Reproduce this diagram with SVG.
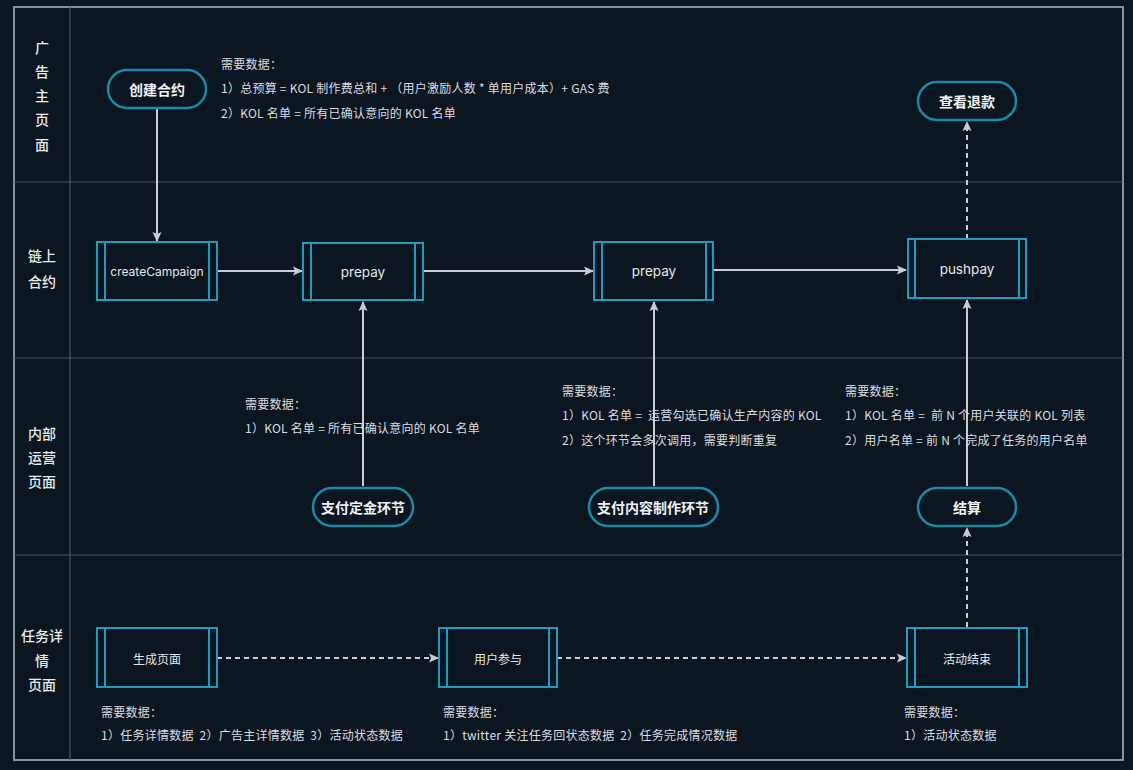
<svg xmlns="http://www.w3.org/2000/svg" width="1133" height="770" viewBox="0 0 1133 770">
<defs>
<style>
.bg{fill:#0c1620}
.frame{fill:none;stroke:#8c9196;stroke-width:2}
.div{stroke:#4b555f;stroke-width:1.2}
.lane{font-family:"Noto Sans CJK SC",sans-serif;font-size:14px;fill:#e8ebee;font-weight:500;text-anchor:middle}
.pill{fill:#0c1620;stroke:#1a8aa6;stroke-width:2.5}
.pt{font-family:"Noto Sans CJK SC",sans-serif;font-size:14px;font-weight:700;fill:#f0f2f4;text-anchor:middle;dominant-baseline:central}
.box{fill:#0c1620;stroke:#1d9cc2;stroke-width:2}
.bl{stroke:#1d9cc2;stroke-width:2}
.bt{font-family:Inter,"Noto Sans CJK SC",sans-serif;font-size:13.5px;fill:#e3e7ea;text-anchor:middle;dominant-baseline:central}
.note{font-family:"Noto Sans CJK SC",sans-serif;font-size:12px;fill:#d9dde1;white-space:pre;letter-spacing:0.25px}
.c{stroke:#c9cdd2;stroke-width:2;fill:none}
.d{stroke:#c9cdd2;stroke-width:2;fill:none;stroke-dasharray:5 4}
</style>
<marker id="ah" viewBox="0 0 10 10" refX="9" refY="5" markerWidth="10" markerHeight="10" markerUnits="userSpaceOnUse" orient="auto">
<path d="M0,0.5 L10,5 L0,9.5 L2,5 Z" fill="#c9cdd2"/>
</marker>
</defs>
<rect class="bg" x="0" y="0" width="1133" height="770"/>
<g id="lanes">
<rect class="frame" x="14" y="7" width="1109" height="753"/>
<line class="div" x1="70" y1="7" x2="70" y2="760"/>
<line class="div" x1="14" y1="182" x2="1123" y2="182"/>
<line class="div" x1="14" y1="358" x2="1123" y2="358"/>
<line class="div" x1="14" y1="555" x2="1123" y2="555"/>
<text class="lane" x="42" y="53">广</text>
<text class="lane" x="42" y="77">告</text>
<text class="lane" x="42" y="101">主</text>
<text class="lane" x="42" y="125">页</text>
<text class="lane" x="42" y="150">面</text>
<text class="lane" x="42" y="261">链上</text>
<text class="lane" x="42" y="287">合约</text>
<text class="lane" x="42" y="439">内部</text>
<text class="lane" x="42" y="463">运营</text>
<text class="lane" x="42" y="487">页面</text>
<text class="lane" x="42" y="641">任务详</text>
<text class="lane" x="42" y="666">情</text>
<text class="lane" x="42" y="690">页面</text>
</g>
<g id="connectors">
<line class="c" x1="157" y1="109" x2="157" y2="241" marker-end="url(#ah)"/>
<line class="c" x1="217" y1="271" x2="302" y2="271" marker-end="url(#ah)"/>
<line class="c" x1="423" y1="271" x2="593" y2="271" marker-end="url(#ah)"/>
<line class="c" x1="713" y1="270" x2="906" y2="270" marker-end="url(#ah)"/>
<line class="c" x1="363" y1="486" x2="363" y2="302" marker-end="url(#ah)"/>
<line class="c" x1="654" y1="486" x2="654" y2="302" marker-end="url(#ah)"/>
<line class="c" x1="967" y1="486" x2="967" y2="300" marker-end="url(#ah)"/>
<line class="d" x1="967" y1="239" x2="967" y2="122" marker-end="url(#ah)"/>
<line class="d" x1="967" y1="627" x2="967" y2="528" marker-end="url(#ah)"/>
<line class="d" x1="217" y1="658" x2="438" y2="658" marker-end="url(#ah)"/>
<line class="d" x1="557" y1="658" x2="906" y2="658" marker-end="url(#ah)"/>
</g>
<g id="n-create">
<rect class="pill" x="108" y="70" width="98" height="38" rx="19"/>
<text class="pt" x="157" y="89">创建合约</text>
</g>
<g id="n-refund">
<rect class="pill" x="918" y="82" width="98" height="38" rx="19"/>
<text class="pt" x="967" y="101">查看退款</text>
</g>
<g id="n-createCampaign">
<rect class="box" x="97" y="242" width="120" height="58"/>
<line class="bl" x1="105" y1="242" x2="105" y2="300"/>
<line class="bl" x1="209" y1="242" x2="209" y2="300"/>
<text class="bt" x="157" y="271" style="font-size:12px">createCampaign</text>
</g>
<g id="n-prepay1">
<rect class="box" x="303" y="243" width="120" height="57"/>
<line class="bl" x1="311" y1="243" x2="311" y2="300"/>
<line class="bl" x1="415" y1="243" x2="415" y2="300"/>
<text class="bt" x="363" y="272">prepay</text>
</g>
<g id="n-prepay2">
<rect class="box" x="594" y="242" width="119" height="58"/>
<line class="bl" x1="602" y1="242" x2="602" y2="300"/>
<line class="bl" x1="706" y1="242" x2="706" y2="300"/>
<text class="bt" x="654" y="271">prepay</text>
</g>
<g id="n-pushpay">
<rect class="box" x="908" y="239" width="118" height="59"/>
<line class="bl" x1="915" y1="239" x2="915" y2="298"/>
<line class="bl" x1="1019" y1="239" x2="1019" y2="298"/>
<text class="bt" x="967" y="269">pushpay</text>
</g>
<g id="n-deposit">
<rect class="pill" x="313" y="488" width="100" height="38" rx="19"/>
<text class="pt" x="363" y="507">支付定金环节</text>
</g>
<g id="n-content">
<rect class="pill" x="589" y="488" width="129" height="38" rx="19"/>
<text class="pt" x="653" y="507">支付内容制作环节</text>
</g>
<g id="n-settle">
<rect class="pill" x="918" y="488" width="98" height="38" rx="19"/>
<text class="pt" x="967" y="507">结算</text>
</g>
<g id="n-genpage">
<rect class="box" x="97" y="628" width="120" height="59"/>
<line class="bl" x1="105" y1="628" x2="105" y2="687"/>
<line class="bl" x1="209" y1="628" x2="209" y2="687"/>
<text class="bt" x="157" y="659" style="font-size:12px">生成页面</text>
</g>
<g id="n-join">
<rect class="box" x="439" y="628" width="118" height="59"/>
<line class="bl" x1="447" y1="628" x2="447" y2="687"/>
<line class="bl" x1="549" y1="628" x2="549" y2="687"/>
<text class="bt" x="498" y="659" style="font-size:12px">用户参与</text>
</g>
<g id="n-end">
<rect class="box" x="907" y="628" width="120" height="59"/>
<line class="bl" x1="915" y1="628" x2="915" y2="687"/>
<line class="bl" x1="1019" y1="628" x2="1019" y2="687"/>
<text class="bt" x="967" y="659" style="font-size:12px">活动结束</text>
</g>
<g id="notes">
<text class="note" x="221" y="69">需要数据：</text>
<text class="note" x="221" y="93">1）总预算 = KOL 制作费总和 + （用户激励人数 * 单用户成本）+ GAS 费</text>
<text class="note" x="221" y="118">2）KOL 名单 = 所有已确认意向的 KOL 名单</text>
<text class="note" x="245" y="409">需要数据：</text>
<text class="note" x="245" y="433">1）KOL 名单 = 所有已确认意向的 KOL 名单</text>
<text class="note" x="562" y="396">需要数据：</text>
<text class="note" x="562" y="420">1）KOL 名单 =  运营勾选已确认生产内容的 KOL</text>
<text class="note" x="562" y="445">2）这个环节会多次调用，需要判断重复</text>
<text class="note" x="845" y="396">需要数据：</text>
<text class="note" x="845" y="420">1）KOL 名单 =  前 N 个用户关联的 KOL 列表</text>
<text class="note" x="845" y="445">2）用户名单 = 前 N 个完成了任务的用户名单</text>
<text class="note" x="101" y="717">需要数据：</text>
<text class="note" x="101" y="740">1）任务详情数据  2）广告主详情数据  3）活动状态数据</text>
<text class="note" x="443" y="717">需要数据：</text>
<text class="note" x="443" y="740">1）twitter 关注任务回状态数据  2）任务完成情况数据</text>
<text class="note" x="904" y="717">需要数据：</text>
<text class="note" x="904" y="740">1）活动状态数据</text>
</g>
</svg>
